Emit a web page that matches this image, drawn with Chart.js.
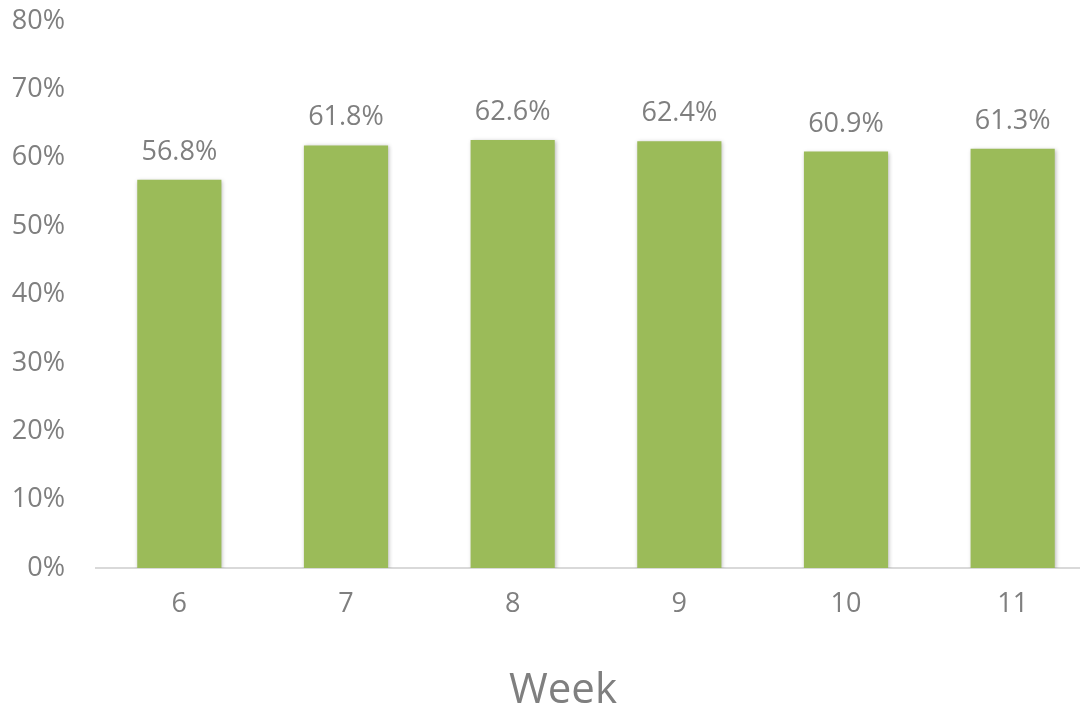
<!DOCTYPE html>
<html>
<head>
<meta charset="utf-8">
<script src="https://cdn.jsdelivr.net/npm/chart.js@4/dist/chart.umd.min.js"></script>
<style>
  html, body { margin: 0; padding: 0; background: #ffffff; overflow: hidden; }
  #wrap { width: 1080px; height: 706px; overflow: hidden; position: relative; }
  #box { width: 1097px; height: 706px; position: absolute; left: 0; top: 0; }
</style>
</head>
<body>
<div id="wrap"><div id="box"><canvas id="chart"></canvas></div></div>
<script>
// Weekly share, in percent
const weeks = ['6', '7', '8', '9', '10', '11'];
const shares = [56.8, 61.8, 62.6, 62.4, 60.9, 61.3];
const yTicks = [0, 10, 20, 30, 40, 50, 60, 70, 80];
const axisTitle = 'Week';

const GRAY = '#7f7f7f';
const FONT = '"Open Sans", "DejaVu Sans", sans-serif';

// soft drop shadow under the bars
const barShadow = {
  id: 'barShadow',
  beforeDatasetsDraw(chart) {
    const ctx = chart.ctx;
    ctx.save();
    ctx.shadowColor = 'rgba(0,0,0,0.28)';
    ctx.shadowBlur = 4;
    ctx.shadowOffsetX = 1;
    ctx.shadowOffsetY = 1;
  },
  afterDatasetsDraw(chart) {
    chart.ctx.restore();
  }
};

// value labels above each bar
const valueLabels = {
  id: 'valueLabels',
  afterDatasetsDraw(chart) {
    const ctx = chart.ctx;
    const meta = chart.getDatasetMeta(0);
    ctx.save();
    ctx.shadowColor = 'transparent';
    ctx.fillStyle = GRAY;
    ctx.font = '27px ' + FONT;
    ctx.textAlign = 'center';
    ctx.textBaseline = 'alphabetic';
    meta.data.forEach((bar, i) => {
      ctx.fillText(shares[i].toFixed(1) + '%', bar.x, bar.y - 20);
    });
    ctx.restore();
  }
};

// axis title under the category labels
const xTitle = {
  id: 'xTitle',
  afterDraw(chart) {
    const ctx = chart.ctx;
    ctx.save();
    ctx.fillStyle = GRAY;
    ctx.font = '42px ' + FONT;
    ctx.textAlign = 'center';
    ctx.textBaseline = 'alphabetic';
    ctx.fillText(axisTitle, 563, 703);
    ctx.restore();
  }
};

new Chart(document.getElementById('chart'), {
  type: 'bar',
  data: {
    labels: weeks,
    datasets: [{
      data: shares,
      backgroundColor: '#9bbb59',
      borderWidth: 0,
      barPercentage: 0.505,
      categoryPercentage: 1.0
    }]
  },
  options: {
    responsive: true,
    maintainAspectRatio: false,
    animation: false,
    layout: { padding: { top: 21, right: 1, left: 0, bottom: 0 } },
    plugins: {
      legend: { display: false },
      tooltip: { enabled: false }
    },
    scales: {
      x: {
        grid: { display: false, drawTicks: false },
        border: { display: true, color: '#d9d9d9', width: 2 },
        ticks: { color: GRAY, font: { family: FONT, size: 27 }, padding: 20 },
        afterFit(scale) { scale.height = 138; }
      },
      y: {
        min: 0,
        max: 80,
        afterBuildTicks(scale) { scale.ticks = yTicks.map(v => ({ value: v })); },
        grid: { display: false, drawTicks: false },
        border: { display: false },
        ticks: {
          color: GRAY,
          font: { family: FONT, size: 27 },
          padding: 31,
          callback: v => v + '%'
        },
        afterFit(scale) {
          scale.width = 96;
          scale.paddingTop = 0;
          scale.paddingBottom = 0;
        }
      }
    }
  },
  plugins: [barShadow, valueLabels, xTitle]
});
</script>
</body>
</html>
